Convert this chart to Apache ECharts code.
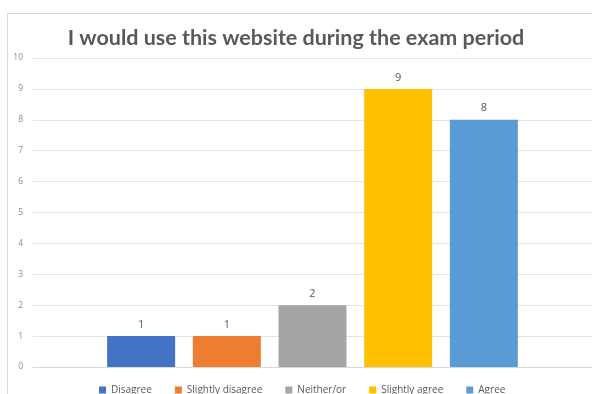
<!DOCTYPE html>
<html>
<head>
<meta charset="utf-8">
<script src="https://cdn.jsdelivr.net/npm/echarts@6/dist/echarts.min.js"></script>
<style>
  html, body { margin: 0; padding: 0; background: #fff; }
  #chart { width: 592px; height: 394px; }
</style>
</head>
<body>
<div id="chart"></div>
<script>
// answers (one series each, like the excel chart)
var answers = ['Disagree', 'Slightly disagree', 'Neither/or', 'Slightly agree', 'Agree'];
var counts = [1, 1, 2, 9, 8];
var colors = ['#4472C4', '#ED7D31', '#A5A5A5', '#FFC000', '#5B9BD5'];
var yTicks = [0, 10, 1]; // min, max, step

var chart = echarts.init(document.getElementById('chart'));

var series = [];
for (var i = 0; i < answers.length; i++) {
    series.push({
        name: answers[i],
        type: 'bar',
        data: [counts[i]],
        barWidth: 68,
        barGap: '26%',
        itemStyle: { color: colors[i] },
        label: {
            show: true,
            position: 'top',
            distance: 6,
            color: '#595959',
            fontSize: 11,
            fontFamily: 'Open Sans'
        }
    });
}

var option = {
    backgroundColor: '#fff',
    animation: false,
    graphic: [{
        type: 'rect',
        shape: { x: 7.5, y: 13.5, width: 620, height: 420 },
        style: { fill: 'none', stroke: '#d9d9d9', lineWidth: 1 }
    }],
    title: {
        text: 'I would use this website during the exam period',
        left: 'center',
        top: 22,
        textStyle: {
            color: '#595959',
            fontSize: 21.5,
            fontWeight: 'bold',
            fontFamily: 'Lato'
        }
    },
    legend: {
        data: answers,
        top: 380,
        left: 94,
        itemWidth: 7,
        itemHeight: 7,
        itemGap: 23,
        icon: 'rect',
        textStyle: { color: '#595959', fontSize: 10, fontFamily: 'Open Sans' }
    },
    grid: {
        left: 33,
        top: 58,
        width: 560,
        bottom: 27,
        containLabel: false
    },
    xAxis: {
        type: 'category',
        data: [''],
        axisLine: { lineStyle: { color: '#d9d9d9' } },
        axisTick: { show: false },
        axisLabel: { show: false }
    },
    yAxis: {
        type: 'value',
        min: yTicks[0],
        max: yTicks[1],
        interval: yTicks[2],
        axisLine: { show: false },
        axisTick: { show: false },
        axisLabel: { color: '#8c8c8c', fontSize: 8.5, margin: 10, fontFamily: 'Open Sans' },
        splitLine: { lineStyle: { color: '#e3e3e3' } }
    },
    series: series
};

chart.setOption(option);
</script>
</body>
</html>
